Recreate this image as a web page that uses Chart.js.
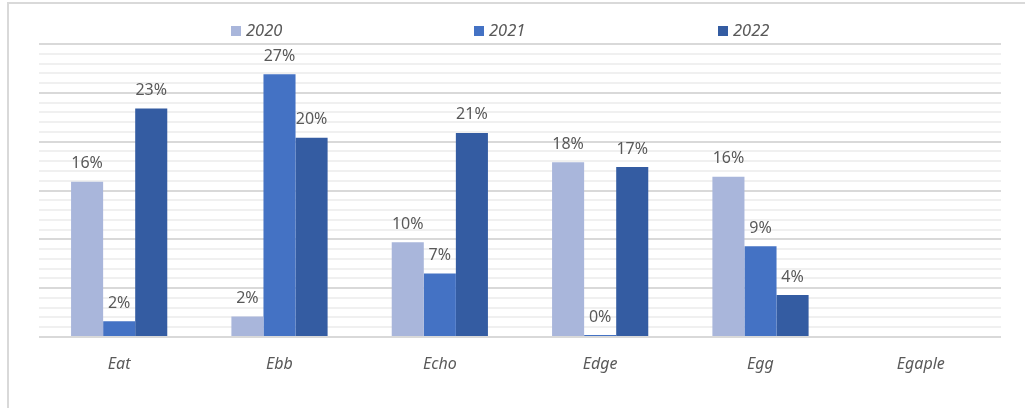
<!DOCTYPE html>
<html>
<head>
<meta charset="utf-8">
<script src="https://cdn.jsdelivr.net/npm/chart.js@4"></script>
<style>
  html, body { margin: 0; padding: 0; background: #fff; overflow: hidden; }
  #wrap { position: relative; width: 1025px; height: 408px; }
</style>
</head>
<body>
<div id="wrap"><canvas id="chart" width="1025" height="408"></canvas></div>
<script>
const categories = ['Eat', 'Ebb', 'Echo', 'Edge', 'Egg', 'Egaple'];
const seriesNames = ['2020', '2021', '2022'];
const values2020 = [15.9, 2.1, 9.7, 17.9, 16.4, null];
const values2021 = [1.6, 26.9, 6.5, 0.2, 9.3, null];
const values2022 = [23.4, 20.4, 20.9, 17.4, 4.3, null];
const seriesColors = ['#a9b6db', '#4472c4', '#345ca2'];

const textColor = '#595959';
const fontFamily = '"Noto Sans", "Open Sans", sans-serif';

// legend entries spread across the top, like the original sheet
const legendSlots = [231, 474, 718];

const topLegend = {
  id: 'topLegend',
  afterDraw(chart) {
    const ctx = chart.ctx;
    ctx.save();
    ctx.font = 'italic 16.5px ' + fontFamily;
    ctx.textBaseline = 'middle';
    chart.data.datasets.forEach((ds, i) => {
      const x = legendSlots[i];
      ctx.fillStyle = ds.backgroundColor;
      ctx.fillRect(x, 26, 10, 10);
      ctx.fillStyle = textColor;
      ctx.fillText(ds.label, x + 15, 31);
    });
    ctx.restore();
  }
};

const frame = {
  id: 'frame',
  beforeDraw(chart) {
    const ctx = chart.ctx;
    ctx.save();
    ctx.strokeStyle = '#d9d9d9';
    ctx.lineWidth = 2;
    ctx.strokeRect(8, 3, 1100, 500);
    ctx.restore();
  }
};

const valueLabels = {
  id: 'valueLabels',
  afterDatasetsDraw(chart) {
    const ctx = chart.ctx;
    ctx.save();
    ctx.font = '16px ' + fontFamily;
    ctx.fillStyle = textColor;
    ctx.textAlign = 'center';
    ctx.textBaseline = 'bottom';
    chart.data.datasets.forEach((ds, i) => {
      chart.getDatasetMeta(i).data.forEach((bar, j) => {
        const v = ds.data[j];
        if (v === null || v === undefined) return;
        ctx.fillText(Math.round(v) + '%', bar.x, bar.y - 10);
      });
    });
    ctx.restore();
  }
};

new Chart(document.getElementById('chart'), {
  type: 'bar',
  data: {
    labels: categories,
    datasets: [
      { label: seriesNames[0], data: values2020, backgroundColor: seriesColors[0] },
      { label: seriesNames[1], data: values2021, backgroundColor: seriesColors[1] },
      { label: seriesNames[2], data: values2022, backgroundColor: seriesColors[2] },
    ],
  },
  options: {
    responsive: false,
    animation: false,
    layout: { padding: { left: 39, right: 24, top: 44, bottom: 0 } },
    datasets: {
      bar: { categoryPercentage: 0.6, barPercentage: 1.0 },
    },
    scales: {
      x: {
        grid: { display: false },
        border: { display: false },
        ticks: {
          color: textColor,
          font: { family: fontFamily, size: 16, style: 'italic' },
          padding: 10,
        },
        afterFit: (scale) => { scale.height = 71; },
      },
      y: {
        min: 0,
        max: 30,
        ticks: { display: false, stepSize: 1 },
        border: { display: false },
        grid: {
          drawTicks: false,
          color: (c) => (c.tick.value % 5 === 0 ? '#d9d9d9' : '#f0f0f0'),
          lineWidth: 2,
        },
        afterFit: (scale) => { scale.width = 0; },
      },
    },
    plugins: {
      legend: { display: false },
      tooltip: { enabled: false },
    },
  },
  plugins: [frame, valueLabels, topLegend],
});
</script>
</body>
</html>
